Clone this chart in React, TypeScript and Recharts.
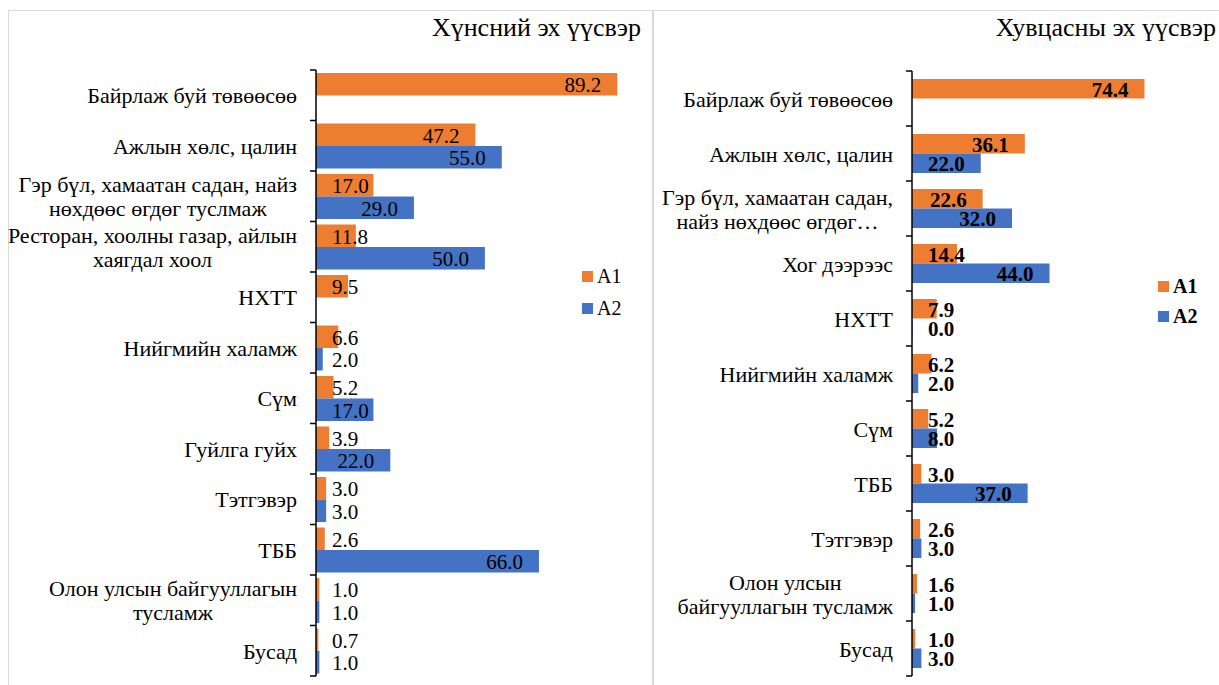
import React from 'react';
import { BarChart, Bar, XAxis, YAxis, Legend, LabelList } from 'recharts';

const foodCategories = [
  'Байрлаж буй төвөөсөө',
  'Ажлын хөлс, цалин',
  'Гэр бүл, хамаатан садан, найз нөхдөөс өгдөг туслмаж',
  'Ресторан, хоолны газар, айлын хаягдал хоол',
  'НХТТ',
  'Нийгмийн халамж',
  'Сүм',
  'Гуйлга гуйх',
  'Тэтгэвэр',
  'ТББ',
  'Олон улсын байгууллагын тусламж',
  'Бусад',
];
const foodA1 = [89.2, 47.2, 17.0, 11.8, 9.5, 6.6, 5.2, 3.9, 3.0, 2.6, 1.0, 0.7];
const foodA2 = [null, 55.0, 29.0, 50.0, null, 2.0, 17.0, 22.0, 3.0, 66.0, 1.0, 1.0];

const clothCategories = [
  'Байрлаж буй төвөөсөө',
  'Ажлын хөлс, цалин',
  'Гэр бүл, хамаатан садан, найз нөхдөөс өгдөг тусламж',
  'Хог дээрээс',
  'НХТТ',
  'Нийгмийн халамж',
  'Сүм',
  'ТББ',
  'Тэтгэвэр',
  'Олон улсын байгууллагын тусламж',
  'Бусад',
];
const clothA1 = [74.4, 36.1, 22.6, 14.4, 7.9, 6.2, 5.2, 3.0, 2.6, 1.6, 1.0];
const clothA2 = [null, 22.0, 32.0, 44.0, 0.0, 2.0, 8.0, 37.0, 3.0, 1.0, 3.0];

const ORANGE = '#ED7D31';
const BLUE = '#4472C4';
const FAMILY = '"Liberation Serif", "Times New Roman", serif';
const CAT_SIZE = 22;
const VAL_SIZE = 21;

const foodData = foodCategories.map((name, i) => ({ name, A1: foodA1[i], A2: foodA2[i] }));
const clothData = clothCategories.map((name, i) => ({ name, A1: clothA1[i], A2: clothA2[i] }));

let ctx: CanvasRenderingContext2D | null = null;
function measure(s: string, font: string) {
  if (!ctx) ctx = document.createElement('canvas').getContext('2d');
  if (!ctx) return s.length * 9;
  ctx.font = font;
  return ctx.measureText(s).width;
}

// greedy word wrap, at most two lines, ellipsis like Excel
function wrap(text: string, maxW: number, font: string) {
  const words = text.split(' ');
  const lines: string[] = [];
  let cur = '';
  let i = 0;
  for (; i < words.length; i++) {
    const next = cur ? cur + ' ' + words[i] : words[i];
    if (measure(next, font) <= maxW || !cur) {
      cur = next;
    } else {
      if (lines.length === 1) break;
      lines.push(cur);
      cur = words[i];
    }
  }
  if (i < words.length) cur = cur + '…';
  lines.push(cur);
  return lines;
}

function CategoryTick(props: any) {
  const { x, y, payload, index, wrapW, band, count, font, gap } = props;
  const lines = wrap(String(payload.value), wrapW, font);
  const w = Math.max(...lines.map((l) => measure(l, font)));
  const cx = x - w / 2;
  const lineH = 24;
  const top = y - ((lines.length - 1) * lineH) / 2;
  const axisX = x + gap;
  return (
    <g>
      <line x1={axisX - 6} x2={axisX} y1={y - band / 2} y2={y - band / 2} stroke="#000" strokeWidth={1.5} />
      {index === count - 1 && (
        <line x1={axisX - 6} x2={axisX} y1={y + band / 2} y2={y + band / 2} stroke="#000" strokeWidth={1.5} />
      )}
      <text x={cx} y={top} textAnchor="middle" fontFamily={FAMILY} fontSize={CAT_SIZE} fill="#000" dominantBaseline="central">
        {lines.map((l, k) => (
          <tspan key={k} x={cx} dy={k === 0 ? 0 : lineH}>
            {l}
          </tspan>
        ))}
      </text>
    </g>
  );
}

function makeValueLabel(bold: boolean) {
  const font = `${bold ? 'bold ' : ''}${VAL_SIZE}px ${FAMILY}`;
  return (props: any) => {
    const { x, y, width, height, value } = props;
    if (value === null || value === undefined) return null;
    const txt = Number(value).toFixed(1);
    const tw = measure(txt, font);
    const right = x + width - 16;
    const left = Math.max(right - tw, x + 16);
    return (
      <text x={left} y={y + height / 2 + 1} fontFamily={FAMILY} fontSize={VAL_SIZE} fontWeight={bold ? 'bold' : 'normal'} fill="#000" dominantBaseline="central">
        {txt}
      </text>
    );
  };
}

function makeLegend(bold: boolean, rowH: number) {
  return (props: any) => (
    <div>
      {(props.payload || []).map((p: any) => (
        <div key={p.value} style={{ height: rowH, display: 'flex', alignItems: 'center', fontFamily: FAMILY, fontSize: 20, fontWeight: bold ? 'bold' : 'normal', color: '#000' }}>
          <span style={{ width: 11, height: 11, background: p.color, marginRight: 4, display: 'inline-block' }} />
          {p.value}
        </div>
      ))}
    </div>
  );
}

interface PanelProps {
  data: any[];
  width: number;
  height: number;
  margin: { top: number; right: number; bottom: number; left: number };
  axisWidth: number;
  max: number;
  barSize: number;
  wrapW: number;
  bold: boolean;
  legendPos: { left: number; top: number };
  legendRow: number;
}

function Panel({ data, width, height, margin, axisWidth, max, barSize, wrapW, bold, legendPos, legendRow }: PanelProps) {
  const band = (height - margin.top - margin.bottom) / data.length;
  const font = `${CAT_SIZE}px ${FAMILY}`;
  return (
    <BarChart layout="vertical" width={width} height={height} data={data} margin={margin} barGap={0} barSize={barSize}>
      <XAxis type="number" domain={[0, max]} hide />
      <YAxis
        type="category"
        dataKey="name"
        width={axisWidth}
        axisLine={{ stroke: '#000', strokeWidth: 1.5 }}
        tickLine={false}
        tickSize={6}
        tickMargin={13}
        interval={0}
        tick={(p: any) => <CategoryTick {...p} wrapW={wrapW} band={band} count={data.length} font={font} gap={19} />}
      />
      <Legend
        layout="vertical"
        align="center"
        verticalAlign="middle"
        wrapperStyle={{ left: legendPos.left, top: legendPos.top, width: 60 }}
        content={makeLegend(bold, legendRow)}
      />
      <Bar dataKey="A1" name="A1" fill={ORANGE} isAnimationActive={false}>
        <LabelList dataKey="A1" content={makeValueLabel(bold)} />
      </Bar>
      <Bar dataKey="A2" name="A2" fill={BLUE} minPointSize={0.5} isAnimationActive={false}>
        <LabelList dataKey="A2" content={makeValueLabel(bold)} />
      </Bar>
    </BarChart>
  );
}

export default function App() {
  return (
    <div style={{ position: 'absolute', left: 0, top: 0, width: 1219, height: 685, overflow: 'hidden', background: '#fff', fontFamily: FAMILY }}>
      <div style={{ position: 'absolute', left: 8, top: 10, width: 643, height: 700, border: '1px solid #d9d9d9' }} />
      <div style={{ position: 'absolute', left: 653, top: 10, width: 600, height: 700, border: '1px solid #d9d9d9' }} />
      <div style={{ position: 'absolute', right: 1219 - 641, top: 13, fontSize: 26, color: '#000', whiteSpace: 'nowrap' }}>Хүнсний эх үүсвэр</div>
      <div style={{ position: 'absolute', right: 3, top: 13, fontSize: 26, color: '#000', whiteSpace: 'nowrap' }}>Хувцасны эх үүсвэр</div>
      <div style={{ position: 'absolute', left: 8, top: 10 }}>
        <Panel
          data={foodData}
          width={644}
          height={675}
          margin={{ top: 60, right: 32, bottom: 9, left: 0 }}
          axisWidth={308}
          max={90}
          barSize={22.5}
          wrapW={305}
          bold={false}
          legendPos={{ left: 574, top: 250 }}
          legendRow={32}
        />
      </div>
      <div style={{ position: 'absolute', left: 653, top: 10 }}>
        <Panel
          data={clothData}
          width={566}
          height={675}
          margin={{ top: 61, right: 57, bottom: 9, left: 0 }}
          axisWidth={259}
          max={80}
          barSize={19.5}
          wrapW={235}
          bold={true}
          legendPos={{ left: 505, top: 261 }}
          legendRow={30}
        />
      </div>
    </div>
  );
}
